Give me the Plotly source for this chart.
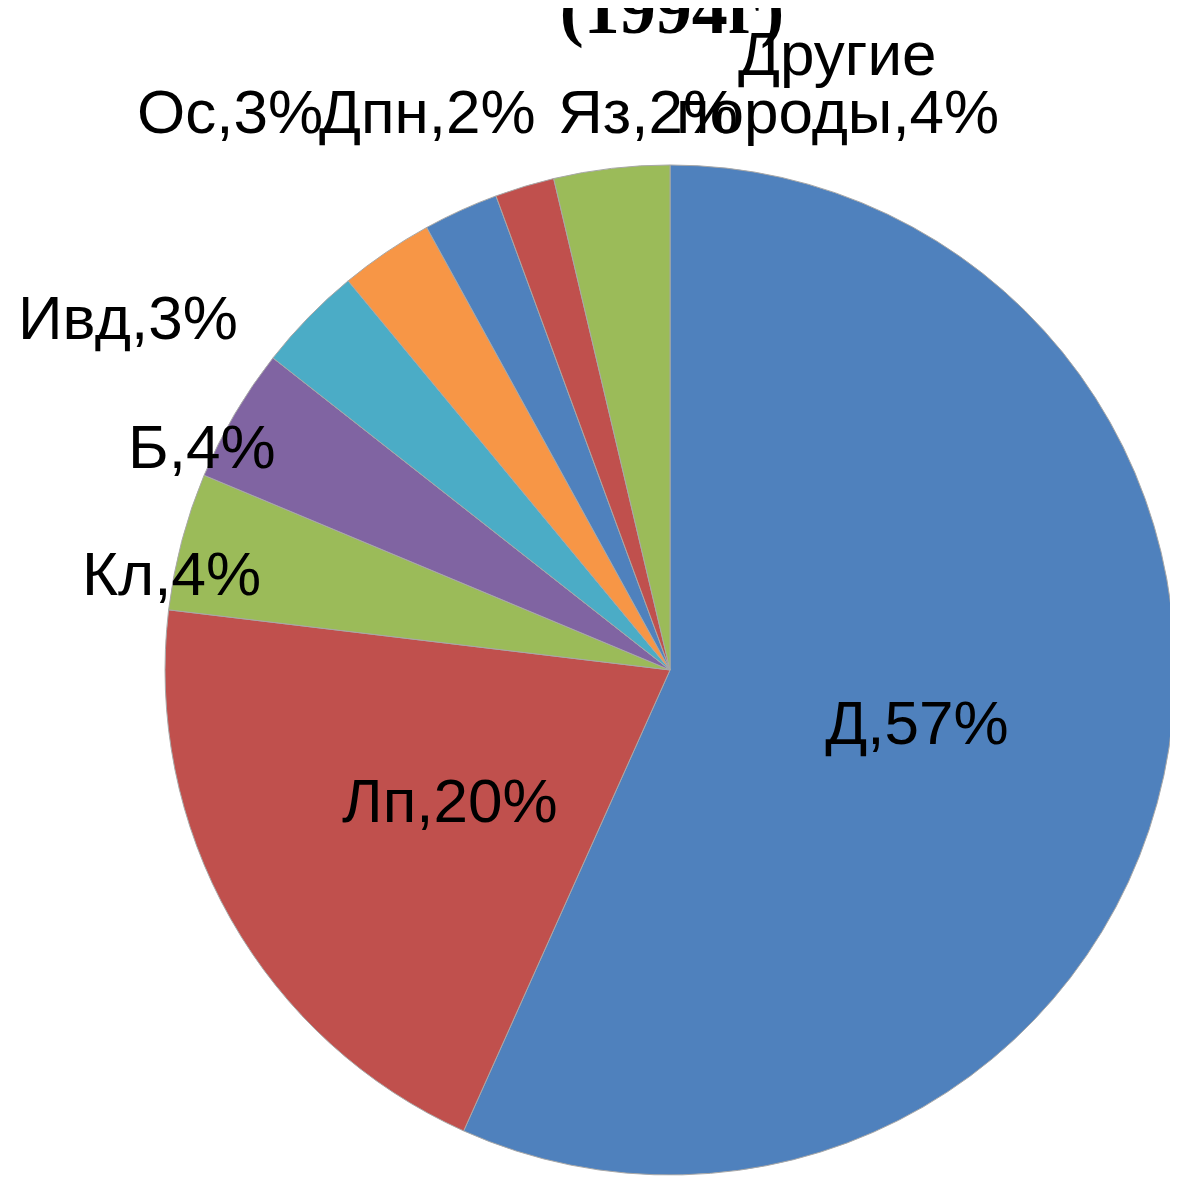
import plotly.graph_objects as go

# породы и их доли (прочитано с диаграммы)
porody = ["Д", "Лп", "Кл", "Б", "Ивд", "Ос", "Дпн", "Яз", "Другие<br>породы"]
doli = [56.7, 20.2, 4.4, 4.3, 3.4, 3.0, 2.4, 1.9, 3.7]
cveta = ["#4F81BD", "#C0504D", "#9BBB59", "#8064A2", "#4BACC6",
         "#F79646", "#4F81BD", "#C0504D", "#9BBB59"]

# где стоят подписи (центры, в пикселях фигуры), как в исходнике
podpisi_px = [None, (442, 792), (163, 565), (194, 438), (120, 310),
              (222, 103), (419, 103), (640, 103), (829, 103)]

W, H = 1178, 1182
FONT = dict(family="Liberation Sans", size=62, color="#000000")

fig = go.Figure(go.Pie(
    labels=porody, values=doli, sort=False, direction="clockwise", rotation=0,
    marker=dict(colors=cveta, line=dict(color="#A8A8A8", width=1)),
    texttemplate="%{label},%{percent:.0%}",
    textposition=["inside"] + ["none"] * 8,
    insidetextorientation="horizontal",
    textfont=FONT,
    automargin=False,
    domain=dict(x=[0.1333, 0.9907], y=[0.0127, 0.8672]),
    showlegend=False,
    hoverinfo="label+percent",
))

total = sum(doli)
for lab, val, pos in zip(porody, doli, podpisi_px):
    if pos is None:
        continue
    txt = f"{lab},{round(val / total * 100)}%"
    lines = txt.split("<br>")
    # многострочная подпись: строки идут вверх с шагом 58 px
    for k, line in enumerate(reversed(lines)):
        fig.add_annotation(
            text=line, x=pos[0] / W, y=1 - (pos[1] - 58 * k) / H,
            xref="paper", yref="paper", xanchor="center", yanchor="middle",
            showarrow=False, font=FONT,
        )

fig.update_layout(
    width=W, height=H,
    paper_bgcolor="white", plot_bgcolor="white",
    margin=dict(l=0, r=0, t=0, b=0),
    title=dict(text="<b>(1994г)</b>", x=664 / W, xanchor="center",
               y=1.0, yanchor="middle",
               font=dict(family="Liberation Serif", size=72, color="#000000")),
)

fig.write_html("out.html")
